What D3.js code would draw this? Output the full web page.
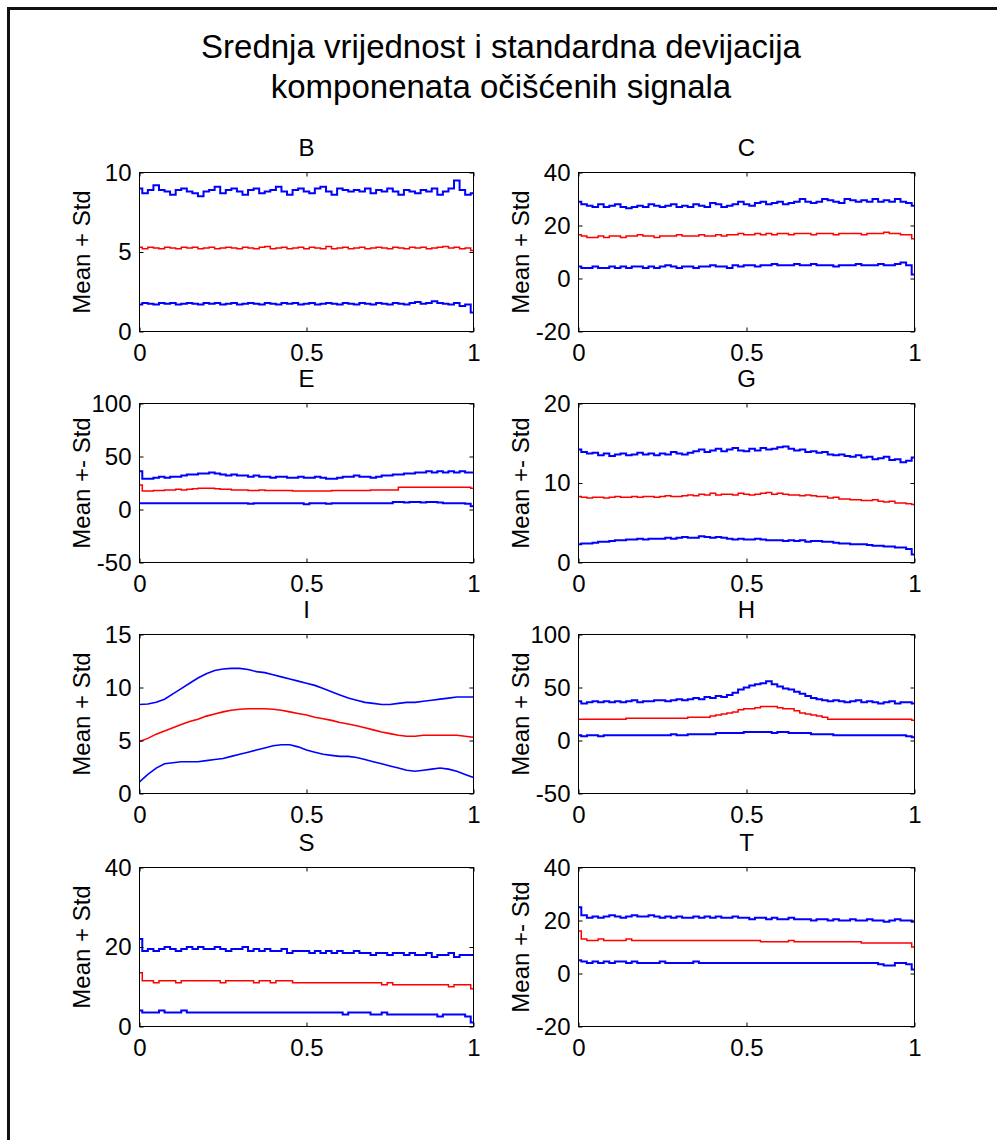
<!DOCTYPE html>
<html>
<head>
<meta charset="utf-8">
<script src="https://cdnjs.cloudflare.com/ajax/libs/d3/7.8.5/d3.min.js"></script>
<style>
  body { margin: 0; background: #fff; }
  svg { display: block; }
</style>
</head>
<body>
<div class="container"></div>
<script>
// figure size
var width = 997;
var height = 1140;
var font = "'Liberation Sans', Arial, Helvetica, sans-serif";

// panel setup (2 columns x 4 rows, read left to right)
var panelNames = ["B", "C", "E", "G", "I", "H", "S", "T"];
var yDomains = [[0, 10], [-20, 40], [-50, 100], [0, 20], [0, 15], [-50, 100], [0, 40], [-20, 40]];
var yTicks = [[0, 5, 10], [-20, 0, 20, 40], [-50, 0, 50, 100], [0, 10, 20], [0, 5, 10, 15], [-50, 0, 50, 100], [0, 20, 40], [-20, 0, 20, 40]];
var yLabels = ["Mean + Std", "Mean + Std", "Mean +- Std", "Mean +- Std", "Mean + Std", "Mean + Std", "Mean + Std", "Mean +- Std"];
var xTicks = [0, 0.5, 1];
var xTickLabels = ["0", "0.5", "1"];

// values (mean + std, mean, mean - std)
var B_hi = [9.0,8.7,8.9,9.2,8.9,8.8,8.6,8.9,9.0,8.8,8.7,8.5,8.8,8.9,9.1,8.7,8.9,9.0,8.8,8.6,8.9,9.0,8.7,8.8,8.9,9.1,8.8,8.6,8.9,9.0,8.8,8.7,9.0,9.1,8.8,8.6,9.0,8.9,8.8,8.9,8.8,9.0,8.7,8.9,8.8,9.0,8.8,8.6,8.9,8.8,8.7,8.9,8.8,9.0,8.6,8.8,9.0,9.5,8.9,8.6,8.7];
var B_mu = [5.3,5.2,5.3,5.25,5.2,5.3,5.25,5.2,5.3,5.25,5.3,5.2,5.25,5.3,5.2,5.25,5.3,5.25,5.2,5.3,5.25,5.2,5.3,5.35,5.2,5.25,5.3,5.2,5.25,5.3,5.2,5.3,5.25,5.2,5.35,5.2,5.25,5.3,5.2,5.25,5.3,5.2,5.25,5.3,5.25,5.2,5.3,5.25,5.2,5.3,5.25,5.3,5.2,5.25,5.3,5.35,5.25,5.3,5.2,5.25,5.1];
var B_lo = [1.7,1.8,1.75,1.7,1.8,1.75,1.8,1.7,1.75,1.8,1.75,1.7,1.8,1.75,1.8,1.7,1.75,1.8,1.7,1.75,1.8,1.75,1.7,1.8,1.75,1.7,1.8,1.75,1.8,1.7,1.75,1.8,1.7,1.75,1.8,1.75,1.7,1.8,1.75,1.7,1.8,1.75,1.7,1.8,1.75,1.7,1.8,1.75,1.7,1.8,1.85,1.75,1.8,1.9,1.8,1.75,1.7,1.8,1.6,1.7,1.2];

var C_hi = [29,28,27.5,27,28,27,27.5,28,27,26.5,27,27.5,27,28,27.5,27,27.5,28,27,27.5,27,28,27.5,27,28.5,28,27,27.5,28,29,28,27.5,28.5,29,28,28.5,29,28,28.5,29,30,29,28.5,29,30,29.5,29,28.5,30,29.5,29,29.5,29,30,29,29.5,29,30,29,28.5,27.5];
var C_mu = [16.5,16,15.5,15.5,16,15.5,16,16,15.5,16,16,16.5,16,16,15.5,16,16,16,16.5,16,16,16,16.5,16,16,16.5,16,16.5,16.5,17,16.5,16.5,17,16.5,17,16.5,17,17,16.5,17,17,17,16.5,17,17,17,16.5,17,17,17,17,16.5,17,17,17,17.5,17,17,16.5,16.5,15];
var C_lo = [4.5,4,4,4.5,4,4,4.5,4,4.5,4,4.5,4.5,4,4.5,4,4.5,5,4.5,4,4.5,4.5,4,4.5,4.5,5,4.5,4.5,4,5,4.5,5,5,4.5,5,5,5.5,5,5,5,5.5,5,5,5.5,5,5,5,4.5,5,5,5,5.5,5,5,5,5.5,5,5,5.5,6,5,1.5];

var E_hi = [36,29,29,30,31,30,31,31,32,33,33,34,34,35,34,33,32,33,32,32,31,32,31,31,30,31,31,30,30,31,30,30,31,30,29,29,30,31,31,32,31,31,30,31,32,32,33,33,34,34,35,35,36,35,36,35,36,35,36,35,35];
var E_mu = [23,17.5,17.5,18,18,18.5,18.5,19,18.5,19,19.5,20,20,20,19.5,19,19,18.5,18.5,18.5,18,18,18.5,18,18,18,18,18,17.5,17.5,17.5,17.5,17.5,17.5,17.5,18,18,18,18,18,18,18,18.5,18.5,18.5,18.5,18.5,21,21,21,21,21,21,21,21,21,21,21,21,21,20];
var E_lo = [6,6,6,6,6,6,6,6,6,6,6,6,6,6,6,6,6,6,6,6,5.5,6,6,6,6,6,6,6,6,6,5,6,6,6,5.5,6,6,6,6,6,6,6,6,6,6,6,7,7,6.5,7,7,6.5,7,7,6.5,6,6,6,6,5.5,3];

var G_hi = [14.2,13.9,13.7,13.8,13.5,13.7,13.4,13.6,13.7,13.5,13.6,13.8,13.6,13.7,13.5,13.7,13.6,13.9,13.7,13.6,13.8,14.0,14.2,13.9,14.1,14.3,14.0,14.2,14.4,14.1,14.0,14.3,14.1,14.4,14.2,14.3,14.5,14.6,14.3,14.1,14.2,13.9,14.0,13.8,13.9,13.6,13.5,13.6,13.4,13.3,13.5,13.2,13.3,13.0,13.1,13.3,12.9,13.0,12.6,12.8,13.2];
var G_mu = [8.3,8.2,8.1,8.2,8.2,8.1,8.2,8.3,8.2,8.2,8.3,8.2,8.3,8.3,8.2,8.3,8.4,8.3,8.3,8.4,8.5,8.4,8.6,8.5,8.7,8.5,8.6,8.6,8.5,8.7,8.6,8.5,8.6,8.7,8.8,8.6,8.7,8.6,8.5,8.5,8.4,8.5,8.4,8.3,8.3,8.1,8.2,8.0,8.0,7.9,7.9,7.8,7.8,7.9,7.7,7.6,7.7,7.5,7.5,7.4,7.3];
var G_lo = [2.3,2.4,2.4,2.5,2.6,2.6,2.7,2.8,2.8,2.9,2.9,3.0,2.9,3.0,3.0,3.0,3.1,3.0,3.1,3.2,3.1,3.1,3.3,3.2,3.1,3.2,3.1,3.0,2.9,3.0,2.9,2.9,3.0,2.9,2.8,2.8,2.8,2.7,2.8,2.7,2.8,2.6,2.7,2.7,2.6,2.6,2.5,2.4,2.4,2.3,2.3,2.3,2.2,2.1,2.1,2.0,2.0,1.9,1.9,1.7,1.0];

var I_hi = [8.4,8.45,8.6,8.9,9.4,9.9,10.4,10.9,11.3,11.6,11.75,11.8,11.8,11.7,11.5,11.4,11.2,11.0,10.8,10.6,10.4,10.2,9.9,9.6,9.3,9.0,8.8,8.6,8.5,8.4,8.4,8.5,8.6,8.6,8.7,8.8,8.9,9.0,9.1,9.1,9.1];
var I_mu = [4.9,5.2,5.6,5.9,6.2,6.5,6.8,7.0,7.3,7.5,7.7,7.85,7.95,8.0,8.0,8.0,7.95,7.85,7.7,7.55,7.4,7.2,7.05,6.9,6.7,6.55,6.4,6.2,6.0,5.8,5.65,5.5,5.4,5.4,5.5,5.5,5.5,5.5,5.5,5.4,5.3];
var I_lo = [1.1,1.8,2.4,2.8,2.9,3.0,3.0,3.0,3.1,3.2,3.3,3.5,3.7,3.9,4.1,4.3,4.5,4.6,4.6,4.4,4.1,3.9,3.7,3.6,3.5,3.5,3.4,3.2,3.0,2.8,2.6,2.4,2.2,2.1,2.2,2.3,2.4,2.3,2.1,1.8,1.5];

var H_hi = [37,35,36,37,36,37,36,37,36,37,38,36,37,37,38,38,37,38,39,38,39,40,39,41,40,42,41,43,45,48,50,52,53,54,56,53,51,49,48,46,44,42,40,39,38,37,38,37,36,37,38,36,37,36,35,36,37,35,36,36,35];
var H_mu = [20,20,20,20,20,20,20,20,20,21,21,21,21,21,21,21,21,21,21,21,22,22,22,22,23,24,25,26,27,29,30,30,31,32,32,32,31,30,30,28,26,25,24,23,22,20,20,20,20,20,20,20,20,20,20,20,20,20,20,20,19];
var H_lo = [5,4,5,5,4,5,5,5,5,5,5,5,5,5,5,5,5,6,5,5,6,6,6,6,6,7,7,7,7,7,8,8,8,8,8,7,8,8,7,7,7,7,6,6,6,6,5,5,5,5,5,5,5,5,5,5,5,5,5,4,3];

var S_hi = [22,19,19.5,19,19.5,20,19.5,19,19.5,20,19.5,20,19.5,19.5,20,19.5,19,19.5,19.5,20,19,19.5,19,19.5,19,19,19.5,18.5,19,19,19,18.5,19,18.5,19,18.5,19,18.5,18.5,19,18.5,18.5,18,18.5,18.5,18,18.5,18.5,18,18.5,18,18,18.5,17.5,18,18,18.5,17.5,18,18,18];
var S_mu = [13.5,11.5,11.5,11,11.5,11.5,11.5,11,11.5,11.5,11.5,11.5,11.5,11.5,11.5,11,11.5,11.5,11.5,11.5,11.5,11,11.5,11.5,11,11.5,11.5,11.5,11,11,11,11,11,11,11,11,11,11,11,11,11,11,11,11,10.5,11,10.5,10.5,10.5,10.5,10.5,10.5,10.5,10.5,10.5,10.5,10,10.5,10.5,10.5,9.5];
var S_lo = [4,3.5,3.5,3.5,4,3.5,3.5,3.5,4,3.5,3.5,3.5,3.5,3.5,3.5,3.5,3.5,3.5,3.5,3.5,3.5,3.5,3.5,3.5,3.5,3.5,3.5,3.5,3.5,3.5,3.5,3.5,3.5,3.5,3.5,3.5,3.5,3,3.5,3.5,3.5,3.5,3,3,3.5,3,3,3,3,3,3,3,3,3,2.5,3,3,3,3,2.5,1];

var T_hi = [25,22,21,21.5,21,21.5,22,21.5,21,21.5,22,21.5,21.5,22,21.5,21,21.5,21,21.5,21,21,21.5,21,21.5,21,21.5,21,21,21.5,21,21,20.5,21,21,20.5,21,20.5,20.5,21,20.5,20.5,20.5,20,20.5,20.5,20,20.5,20,20,20.5,20,20,20.5,20,20,19.5,20,20.5,20,20,19.5];
var T_mu = [16,13,12.5,12.5,13,12.5,12.5,12.5,12.5,13,12.5,12.5,12.5,12.5,12.5,12.5,12.5,12.5,12.5,12.5,12.5,12.5,12.5,12.5,12.5,12.5,12.5,12.5,12.5,12.5,12.5,12.5,12.5,12,12,12,12,12,12.5,12,12,12,12,12,12,12,12,12,12,12,12,11.5,11.5,11.5,11.5,11.5,11.5,11.5,11.5,11.5,10];
var T_lo = [5,4.5,4,4.5,4,4.5,4,4.5,4.5,4,4.5,4,4,4,4,4.5,4,4,4,4,4,4.5,4,4,4,4,4,4,4,4,4,4,4,4,4,4,4,4,4,4,4,4,4,4,4,4,4,4,4,4,4,4,4,4,3.5,3,3,4,4,3.5,1.5];

var upper = [B_hi, C_hi, E_hi, G_hi, I_hi, H_hi, S_hi, T_hi];
var means = [B_mu, C_mu, E_mu, G_mu, I_mu, H_mu, S_mu, T_mu];
var lower = [B_lo, C_lo, E_lo, G_lo, I_lo, H_lo, S_lo, T_lo];

// layout of the axes boxes
var colLeft = [139, 578];
var colWidth = [334, 336];
var rowTop = [172, 403, 634, 867];
var axH = 159;
var tickLen = 4;
var smallFont = 24;

var svg = d3.select(".container").append("svg")
  .attr("width", width)
  .attr("height", height);

svg.append("rect").attr("width", width).attr("height", height).attr("fill", "#fff");

// figure frame (runs off the right and bottom edge)
svg.append("path")
  .attr("d", "M8.5," + height + "V8.5H" + width)
  .attr("fill", "none")
  .attr("stroke", "#111")
  .attr("stroke-width", 3);

// main title
var title = svg.append("text")
  .attr("text-anchor", "middle")
  .attr("font-family", font)
  .attr("font-size", 33)
  .attr("fill", "#000");
title.append("tspan").attr("x", 501).attr("y", 58).text("Srednja vrijednost i standardna devijacija");
title.append("tspan").attr("x", 501).attr("y", 98).text("komponenata očišćenih signala");

panelNames.forEach(function(name, k) {
  var col = k % 2, row = Math.floor(k / 2);
  var w = colWidth[col];
  var g = svg.append("g").attr("transform", "translate(" + (colLeft[col] + 0.5) + "," + (rowTop[row] + 0.5) + ")");

  var x = d3.scaleLinear().domain([0, 1]).range([0, w]);
  var y = d3.scaleLinear().domain(yDomains[k]).range([axH, 0]);

  // lines: mean + std (blue), mean (red), mean - std (blue)
  var series = [upper[k], means[k], lower[k]];
  var colors = ["#0000ff", "#ff0000", "#0000ff"];
  var widths = name == "I" ? [1.6, 1.6, 1.6] : [2, 1.5, 2];
  series.forEach(function(vals, s) {
    var n = vals.length;
    var line = d3.line()
      .x(function(d, i) { return x(i / (n - 1)); })
      .y(function(d) { return y(d); })
      .curve(name == "I" ? d3.curveLinear : d3.curveStep);
    g.append("path")
      .datum(vals)
      .attr("d", line)
      .attr("fill", "none")
      .attr("stroke", colors[s])
      .attr("stroke-width", widths[s]);
  });

  // box
  g.append("rect")
    .attr("width", w).attr("height", axH)
    .attr("fill", "none").attr("stroke", "#000").attr("stroke-width", 1);

  // axes, ticks pointing inward
  g.append("g").attr("transform", "translate(0," + axH + ")")
    .call(d3.axisBottom(x).tickValues(xTicks).tickFormat(function(d, i) { return xTickLabels[i]; })
      .tickSizeInner(-tickLen).tickSizeOuter(0).tickPadding(12));
  g.append("g")
    .call(d3.axisTop(x).tickValues(xTicks).tickFormat("").tickSizeInner(-tickLen).tickSizeOuter(0));
  g.append("g")
    .call(d3.axisLeft(y).tickValues(yTicks[k]).tickFormat(function(d) { return String(d); })
      .tickSizeInner(-tickLen).tickSizeOuter(0).tickPadding(8));
  g.append("g").attr("transform", "translate(" + w + ",0)")
    .call(d3.axisRight(y).tickValues(yTicks[k]).tickFormat("").tickSizeInner(-tickLen).tickSizeOuter(0));

  g.selectAll(".domain").remove();
  g.selectAll(".tick line").attr("stroke", "#000");
  g.selectAll(".tick text").attr("font-family", font).attr("font-size", smallFont).attr("fill", "#000");

  // subplot title
  g.append("text")
    .attr("x", w / 2).attr("y", -17)
    .attr("text-anchor", "middle")
    .attr("font-family", font).attr("font-size", smallFont)
    .text(name);

  // y label
  g.append("text")
    .attr("transform", "translate(-58," + (axH / 2) + ") rotate(-90)")
    .attr("text-anchor", "middle")
    .attr("dominant-baseline", "central")
    .attr("font-family", font).attr("font-size", smallFont)
    .text(yLabels[k]);
});
</script>
</body>
</html>
